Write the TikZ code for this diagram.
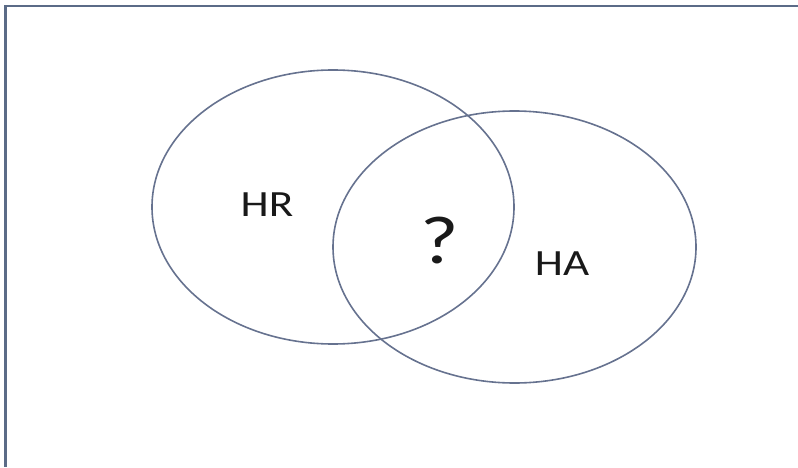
\documentclass[tikz,border=0pt]{standalone}
\usepackage{fontspec}
\setmainfont{Carlito}
\usetikzlibrary{shapes.geometric}
\definecolor{edgecol}{HTML}{5B6B87}
\definecolor{ringcol}{HTML}{66728F}
\newcommand{\widetext}[1]{\scalebox{1.22}[1]{#1}}
\begin{document}
\begin{tikzpicture}[x=1pt,y=1pt,
  ring/.style={draw=ringcol,line width=1.6pt},
  frameline/.style={draw=edgecol,line width=2.2pt},
  lbl/.style={font=\fontsize{37}{40}\selectfont,text=black!90,inner sep=0pt}]
\useasboundingbox (0,0) rectangle (798,467);
\coordinate (tl) at (5.5,461);
\coordinate (tr) at (798,461);
\coordinate (bl) at (5.5,0);
\draw[frameline] (tr) -- (tl) -- (bl);
\node[ring,ellipse,minimum width=362pt,minimum height=274pt,inner sep=0pt] (hr) at (333,260) {};
\node[ring,ellipse,minimum width=363pt,minimum height=272pt,inner sep=0pt] (ha) at (514.5,220) {};
\node[lbl] (hrl) at (267,262) {\widetext{HR}};
\node[lbl] (hal) at (562,203) {\widetext{HA}};
\node[lbl,font=\fontsize{68}{72}\selectfont] (q) at (440,226) {\widetext{?}};
\end{tikzpicture}
\end{document}
